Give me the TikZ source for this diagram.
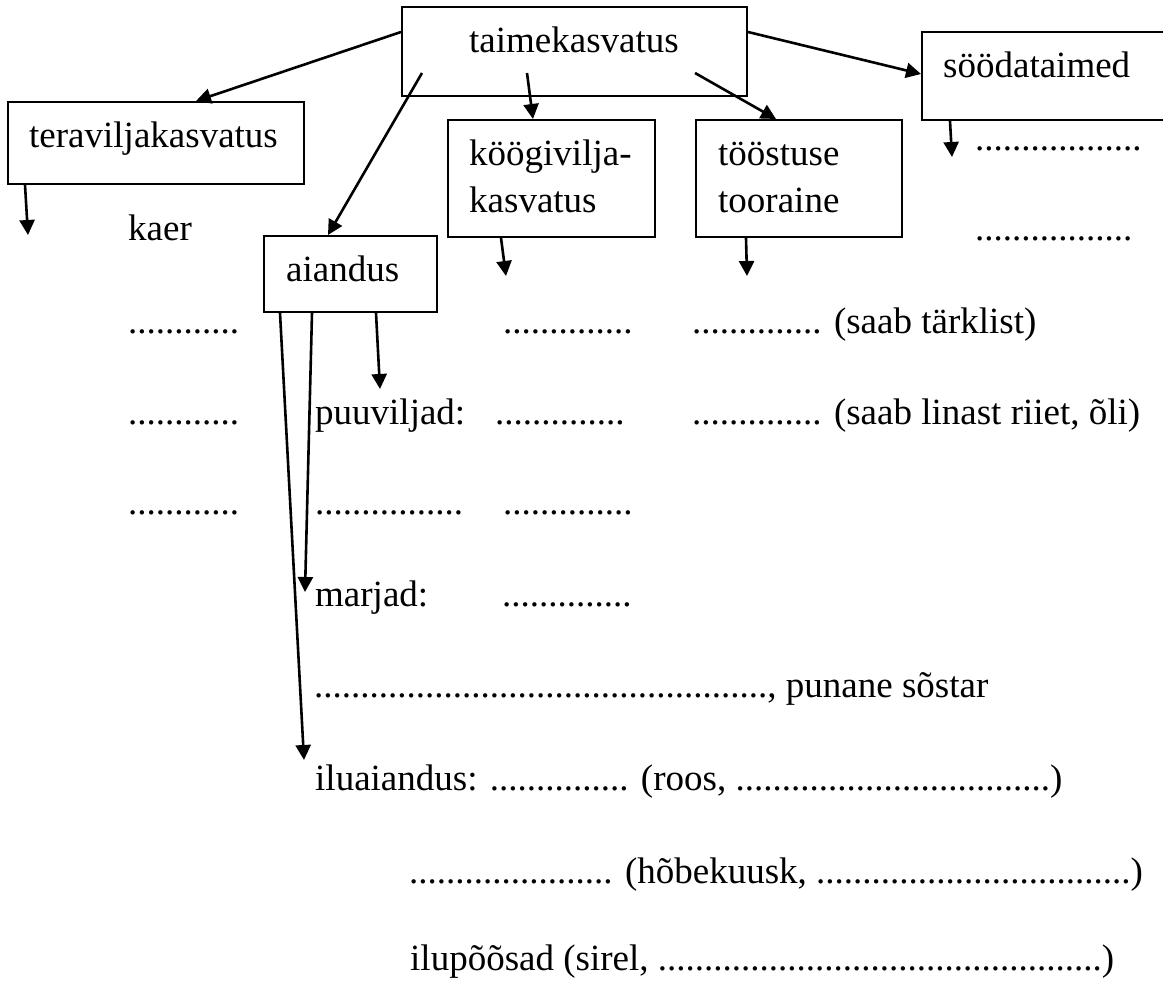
\documentclass[tikz,border=0pt]{standalone}
\usepackage{fontspec}
\setmainfont{Liberation Serif}
\usetikzlibrary{arrows.meta}
\ExplSyntaxOn
\cs_new:Npn \mydots #1 { \prg_replicate:nn {#1} {.} }
\ExplSyntaxOff
\tikzset{
  box/.style={draw, line width=2pt, inner sep=0pt},
  txt/.style={anchor=base west, inner sep=0pt, font=\fontsize{37}{44}\selectfont},
  arr/.style={-{Triangle[length=15pt,width=15pt]}, line width=2.6pt}
}
\begin{document}
\begin{tikzpicture}[x=1pt, y=-1pt]
\useasboundingbox (0,0) rectangle (1163,981);
% boxes
\node[box, minimum width=345pt, minimum height=89pt] (taime) at (574.5,51.5) {};
\node[box, minimum width=296pt, minimum height=82pt] (tera) at (156,143) {};
\node[box, minimum width=207pt, minimum height=117pt] (koogi) at (551.5,178.5) {};
\node[box, minimum width=206pt, minimum height=117pt] (toost) at (799,178.5) {};
\node[box, minimum width=245pt, minimum height=88pt] (sooda) at (1044.5,76) {};
\node[box, minimum width=173pt, minimum height=76pt] (aiandus) at (350.5,274) {};
% box texts
\node[txt] (ttaime) at (469,53) {taimekasvatus};
\node[txt] (ttera) at (29,148) {teraviljakasvatus};
\node[txt] (tkoogi1) at (469,166) {köögivilja-};
\node[txt] (tkoogi2) at (469,213) {kasvatus};
\node[txt] (ttoost1) at (718,166) {tööstuse};
\node[txt] (ttoost2) at (718,213) {tooraine};
\node[txt] (tsooda) at (943,78) {söödataimed};
\node[txt] (taiandus) at (286,282) {aiandus};
% free texts
\node[txt] (kaer) at (128,241) {kaer};
\node[txt] (sd1) at (975,151) {\mydots{18}};
\node[txt] (sd2) at (975,241) {\mydots{17}};
\node[txt] (r1a) at (128,334) {\mydots{12}};
\node[txt] (r1b) at (503,334) {\mydots{14}};
\node[txt] (r1c) at (692,334) {\mydots{14} (saab tärklist)};
\node[txt] (r2a) at (128,425) {\mydots{12}};
\node[txt] (puuviljad) at (315,425) {puuviljad:};
\node[txt] (r2b) at (495,425) {\mydots{14}};
\node[txt] (r2c) at (692,425) {\mydots{14} (saab linast riiet, õli)};
\node[txt] (r3a) at (128,515) {\mydots{12}};
\node[txt] (r3b) at (315,515) {\mydots{16}};
\node[txt] (r3c) at (503,515) {\mydots{14}};
\node[txt] (marjad) at (315,606) {marjad:};
\node[txt] (r4b) at (502,606) {\mydots{14}};
\node[txt] (r5) at (314,697) {\mydots{49}, punane sõstar};
\node[txt] (ilu) at (315,790) {iluaiandus: \mydots{15} (roos, \mydots{34})};
\node[txt] (r7) at (409,883) {\mydots{22} (hõbekuusk, \mydots{34})};
\node[txt] (r8) at (410,970) {ilupõõsad (sirel, \mydots{48})};
% free arrow ends
\coordinate (e1) at (28,235);
\coordinate (e2) at (506,276);
\coordinate (e3) at (747,276);
\coordinate (e4) at (952,157);
\coordinate (e5) at (380,389);
\coordinate (e6) at (305,592);
\coordinate (e7) at (304,760);
% arrows from taimekasvatus
\draw[arr] ([yshift=19.5pt]taime.west) -- ([xshift=189pt]tera.north west);
\draw[arr] ([xshift=21pt,yshift=-67pt]taime.north west) -- ([xshift=65pt]aiandus.north west);
\draw[arr] ([xshift=126pt,yshift=-67pt]taime.north west) -- ([xshift=86pt]koogi.north west);
\draw[arr] ([xshift=294pt,yshift=-67pt]taime.north west) -- ([xshift=81pt]toost.north west);
\draw[arr] ([yshift=19.5pt]taime.east) -- ([yshift=2pt]sooda.west);
% downward arrows
\draw[arr] ([xshift=18pt]tera.south west) -- (e1);
\draw[arr] ([xshift=54pt]koogi.south west) -- (e2);
\draw[arr] ([xshift=51pt]toost.south west) -- (e3);
\draw[arr] ([xshift=29pt]sooda.south west) -- (e4);
\draw[arr] ([xshift=113pt]aiandus.south west) -- (e5);
\draw[arr] ([xshift=49pt]aiandus.south west) -- (e6);
\draw[arr] ([xshift=17pt]aiandus.south west) -- (e7);
\end{tikzpicture}
\end{document}
